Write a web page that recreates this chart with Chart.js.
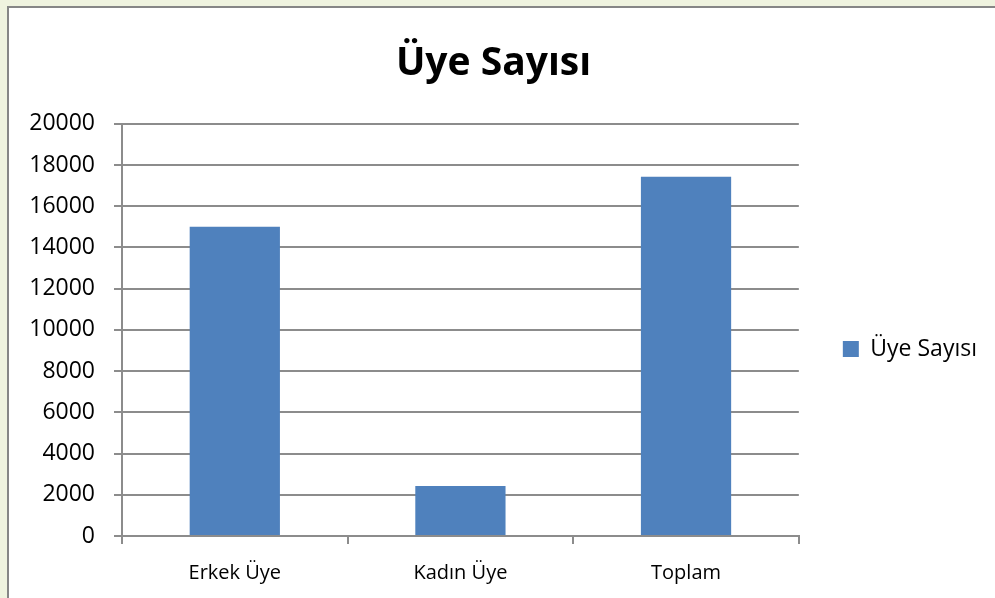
<!DOCTYPE html>
<html>
<head>
<meta charset="utf-8">
<script src="https://cdn.jsdelivr.net/npm/chart.js@4.4.0/dist/chart.umd.min.js"></script>
<style>
    body { margin: 0; background: #eff3df; overflow: hidden; }
    .frame {
        position: absolute; left: 7px; top: 6px; width: 1000px; height: 600px;
        background: #fff; border: 2px solid #868686; box-sizing: border-box;
    }
    .contenidor { position: absolute; left: 0; top: 0; width: 995px; height: 598px; }
</style>
</head>
<body>
<div class="frame"></div>
<div class="contenidor">
    <canvas id="myChart" width="995" height="598"></canvas>
</div>
<script>
const categories = ['Erkek Üye', 'Kadın Üye', 'Toplam'];
const uyeSayisi = [15000, 2430, 17430];
const seriesName = 'Üye Sayısı';
const chartTitle = 'Üye Sayısı';

const fontFamily = '"Open Sans", sans-serif';
const gridColor = '#8c8c8c';

const myChart = (labels, data) => {
    const ctx = document.getElementById('myChart').getContext('2d');
    return new Chart(ctx, {
        type: 'bar',
        data: {
            labels: labels,
            datasets: [{
                label: seriesName,
                backgroundColor: '#4f81bd',
                borderColor: '#4f81bd',
                borderWidth: 0,
                barPercentage: 0.4,
                categoryPercentage: 1,
                data: data
            }]
        },
        options: {
            responsive: false,
            animation: false,
            layout: { padding: { left: 0, right: 8, top: 0, bottom: 0 } },
            plugins: {
                title: {
                    display: true,
                    text: chartTitle,
                    color: '#000',
                    font: { family: fontFamily, size: 39, weight: 'bold', lineHeight: 1.2 },
                    padding: { top: 40, bottom: 37 }
                },
                legend: {
                    position: 'right',
                    // empty title only pushes the item down to the middle of the plot
                    title: { display: true, text: ' ', font: { size: 1 }, padding: { top: 99, bottom: 0 } },
                    labels: {
                        color: '#000',
                        font: { family: fontFamily, size: 23 },
                        boxWidth: 16,
                        boxHeight: 16,
                        padding: 44
                    }
                },
                tooltip: { enabled: false }
            },
            scales: {
                x: {
                    afterFit: (scale) => { scale.height = 62; },
                    grid: {
                        display: true,
                        drawOnChartArea: false,
                        color: gridColor,
                        lineWidth: 2,
                        tickLength: 8,
                        offset: true
                    },
                    border: { color: gridColor, width: 2 },
                    ticks: {
                        color: '#000',
                        padding: 17,
                        font: { family: fontFamily, size: 20 }
                    }
                },
                y: {
                    min: 0,
                    max: 20000,
                    afterFit: (scale) => { scale.width = 122; },
                    grid: {
                        color: gridColor,
                        lineWidth: 2,
                        tickLength: 8
                    },
                    border: { color: gridColor, width: 2 },
                    ticks: {
                        stepSize: 2000,
                        color: '#000',
                        padding: 19,
                        font: { family: fontFamily, size: 23 },
                        callback: (value) => String(value)
                    }
                }
            }
        }
    });
};

myChart(categories, uyeSayisi);
</script>
</body>
</html>
